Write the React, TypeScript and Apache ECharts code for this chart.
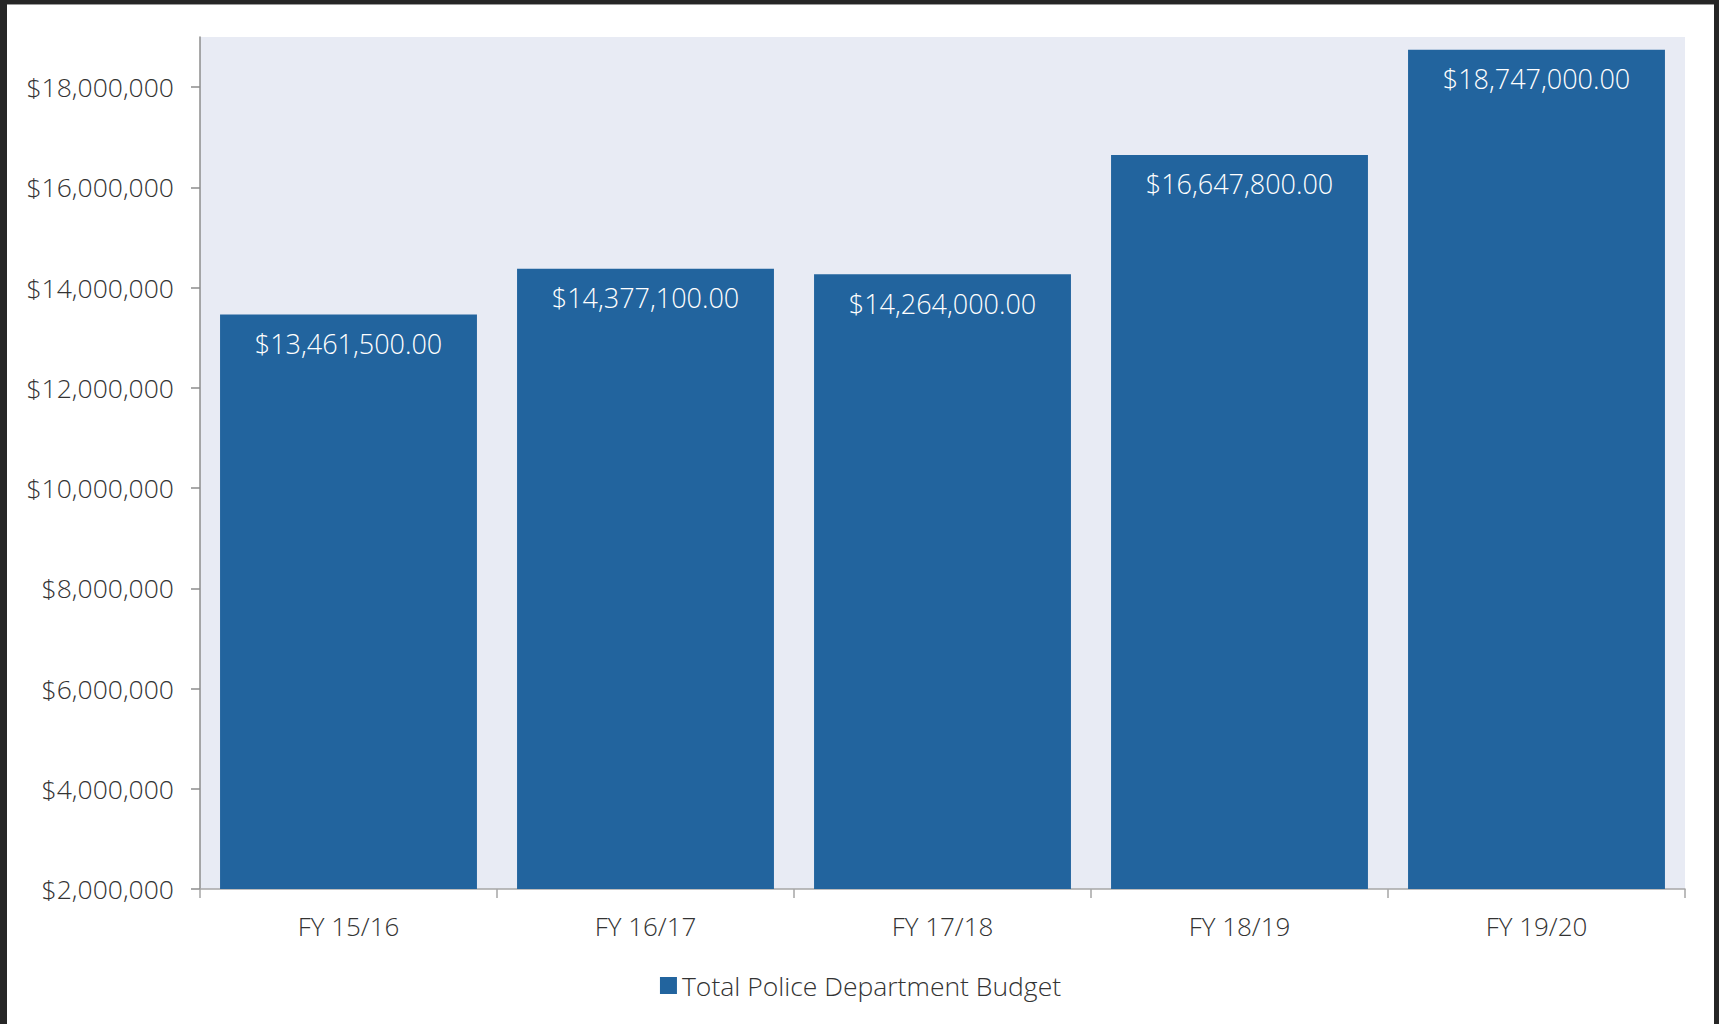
import React, { useEffect, useRef } from "react";
import * as echarts from "echarts";

const categories = ["FY 15/16", "FY 16/17", "FY 17/18", "FY 18/19", "FY 19/20"];
const budgetValues = [13461500, 14377100, 14264000, 16647800, 18747000];
const seriesName = "Total Police Department Budget";
const yMin = 2000000;
const yMax = 19000000;
const yInterval = 2000000;

const FONT = "'Open Sans', 'Noto Sans', sans-serif";

function fmtAxis(v: number): string {
  return "$" + v.toLocaleString("en-US", { maximumFractionDigits: 0 });
}
function fmtLabel(v: number): string {
  return "$" + v.toLocaleString("en-US", { minimumFractionDigits: 2, maximumFractionDigits: 2 });
}

export default function App() {
  const ref = useRef<HTMLDivElement>(null);
  useEffect(() => {
    if (!ref.current) return;
    const chart = echarts.init(ref.current, undefined, { renderer: "svg" });
    chart.setOption({
      animation: false,
      backgroundColor: "#ffffff",
      textStyle: { fontFamily: FONT },
      grid: {
        left: 193,
        top: 32,
        right: 29,
        bottom: 135,
        show: true,
        backgroundColor: "#e8ebf4",
        borderWidth: 0,
      },
      legend: {
        show: true,
        left: "center",
        bottom: 20,
        itemWidth: 17,
        itemHeight: 17,
        itemGap: 9,
        icon: "rect",
        textStyle: { fontFamily: FONT, fontSize: 26.5, fontWeight: 300, color: "#333333" },
        data: [seriesName],
      },
      xAxis: {
        type: "category",
        data: categories,
        axisLine: { show: true, lineStyle: { color: "#a6a6a6", width: 1.5 } },
        axisTick: { show: true, length: 9, lineStyle: { color: "#a6a6a6", width: 1.5 } },
        axisLabel: { fontFamily: FONT, fontSize: 26, fontWeight: 300, color: "#333333", margin: 24 },
        splitLine: { show: false },
      },
      yAxis: {
        type: "value",
        min: yMin,
        max: yMax,
        interval: yInterval,
        axisLine: { show: true, lineStyle: { color: "#8c8c8c", width: 1.5 } },
        axisTick: { show: true, length: 9, lineStyle: { color: "#8c8c8c", width: 1.5 } },
        axisLabel: {
          fontFamily: FONT,
          fontSize: 26.5,
          fontWeight: 300,
          color: "#333333",
          margin: 26,
          formatter: (v: number) => (v % yInterval === 0 ? fmtAxis(v) : ""),
          showMaxLabel: false,
        },
        splitLine: { show: false },
      },
      series: [
        {
          name: seriesName,
          type: "bar",
          data: budgetValues,
          barCategoryGap: "13.5%",
          itemStyle: { color: "#22649e" },
          label: {
            show: true,
            position: "insideTop",
            distance: 14,
            color: "#ffffff",
            fontFamily: FONT,
            fontSize: 27,
            fontWeight: 300,
            lineHeight: 30,
            formatter: (p: any) => fmtLabel(p.value),
          },
        },
      ],
    });
    return () => chart.dispose();
  }, []);

  return (
    <div style={{ position: "fixed", left: 0, top: 0, width: 1719, height: 1024, background: "#262626", overflow: "hidden" }}>
      <div
        style={{
          position: "absolute",
          left: 7,
          top: 4,
          width: 1707,
          height: 1020,
          background: "#ffffff",
          borderTop: "1px solid #9a9a9a",
          boxSizing: "border-box",
        }}
      >
        <div ref={ref} style={{ width: 1707, height: 1019 }} />
      </div>
    </div>
  );
}
